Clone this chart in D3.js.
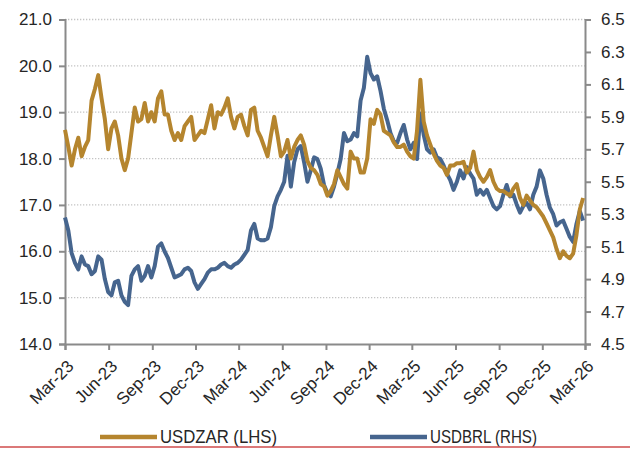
<!DOCTYPE html>
<html>
<head>
<meta charset="utf-8">
<script src="https://cdn.jsdelivr.net/npm/d3@7"></script>
<style>
  body { margin: 0; background: #fff; }
  text { font-family: "Liberation Sans", Arial, sans-serif; fill: #262626; }
</style>
</head>
<body>
<svg id="chart" width="630" height="450"></svg>
<script>
// Weekly closes, first observation 1 March 2023
const firstWeek = "2023-03-01";

const zarValues = [
  18.62, 18.25, 17.85, 18.2, 18.45, 18.05, 18.25, 18.4, 19.25, 19.5,
  19.8, 19.3, 18.85, 18.2, 18.65, 18.8, 18.5, 18.0, 17.75, 18.0,
  18.55, 19.1, 18.8, 18.85, 19.2, 18.8, 19.0, 18.8, 19.3, 19.45,
  18.95, 18.95, 18.6, 18.4, 18.55, 18.4, 18.7, 18.8, 18.9, 18.4,
  18.5, 18.6, 18.55, 18.85, 19.15, 18.65, 19.0, 18.95, 19.1, 19.3,
  18.9, 18.65, 18.9, 18.95, 18.7, 18.5, 19.05, 19.1, 18.6, 18.45,
  18.25, 18.05, 18.5, 18.9, 18.5, 18.05, 18.15, 18.4, 18.0, 18.25,
  18.4, 18.5, 18.3, 17.95, 17.8, 17.75, 17.65, 17.45, 17.4, 17.2,
  17.3, 17.45, 17.75, 17.6, 17.45, 17.35, 18.15, 18.0, 18.0, 17.7,
  17.7, 18.0, 18.85, 18.75, 19.05, 18.95, 18.6, 18.55, 18.5, 18.35,
  18.25, 18.25, 18.3, 18.15, 18.05, 18.0, 18.6, 19.7, 18.8, 18.5,
  18.3, 18.1, 17.95, 17.85, 17.8, 17.65, 17.85, 17.85, 17.9, 17.9,
  17.93, 17.7, 17.8, 18.15, 17.75, 17.6, 17.5, 17.6, 17.75, 17.5,
  17.35, 17.3, 17.3, 17.25, 17.2, 17.35, 17.45, 17.15, 17.0, 17.2,
  17.1, 17.0, 16.95, 16.85, 16.75, 16.6, 16.45, 16.3, 16.05, 15.85,
  16.0, 15.9, 15.85, 15.95, 16.35, 16.9, 17.15
];

const brlValues = [
  5.28, 5.2, 5.06, 5.0, 4.96, 5.04, 4.99, 4.98, 4.93, 4.95,
  5.04, 5.02, 4.9, 4.82, 4.8, 4.88, 4.89, 4.8, 4.76, 4.74,
  4.92, 4.96, 4.98, 4.89, 4.92, 4.98, 4.91, 4.98, 5.1, 5.12,
  5.07, 5.03, 4.97, 4.91, 4.92, 4.93, 4.96, 4.97, 4.95, 4.88,
  4.84, 4.87, 4.9, 4.94, 4.96, 4.96, 4.97, 4.99, 5.0, 4.98,
  4.97, 4.99, 5.0, 5.02, 5.05, 5.08, 5.2, 5.24, 5.15, 5.14,
  5.14, 5.15, 5.22, 5.35, 5.41, 5.45, 5.5, 5.66, 5.47, 5.62,
  5.7, 5.72, 5.62, 5.5, 5.57, 5.65, 5.64, 5.58, 5.48, 5.43,
  5.41, 5.47, 5.55, 5.64, 5.8, 5.75, 5.76, 5.8, 5.78, 6.0,
  6.08, 6.27, 6.17, 6.13, 6.15, 6.06, 5.95, 5.88, 5.8, 5.75,
  5.74, 5.8, 5.85, 5.76, 5.7, 5.74, 5.64, 5.92, 5.79, 5.7,
  5.68, 5.7, 5.65, 5.64, 5.6, 5.55, 5.51, 5.45, 5.5, 5.57,
  5.52, 5.59, 5.55, 5.52, 5.42, 5.45, 5.42, 5.45, 5.4, 5.35,
  5.33, 5.35, 5.42, 5.48, 5.41, 5.42, 5.36, 5.31, 5.35, 5.37,
  5.33, 5.42, 5.47, 5.57, 5.52, 5.42, 5.34, 5.3, 5.23, 5.25,
  5.26, 5.21, 5.16, 5.13, 5.24, 5.32, 5.26
];

const seriesNames = ["USDZAR (LHS)", "USDBRL (RHS)"];
const seriesColors = ["#b5852e", "#46658e"];
const leftTicks = [14, 15, 16, 17, 18, 19, 20, 21];
const rightTicks = [4.5, 4.7, 4.9, 5.1, 5.3, 5.5, 5.7, 5.9, 6.1, 6.3, 6.5];
const xTickLabels = ["Mar-23", "Jun-23", "Sep-23", "Dec-23", "Mar-24", "Jun-24",
  "Sep-24", "Dec-24", "Mar-25", "Jun-25", "Sep-25", "Dec-25", "Mar-26"];

const svg = d3.select("#chart");
const margin = { top: 19.5, right: 45, bottom: 106, left: 65 };
const W = 630, H = 450;
const innerW = W - margin.left - margin.right;
const innerH = H - margin.top - margin.bottom;

const parseLabel = d3.timeParse("%b-%y");
const tickDates = xTickLabels.map(parseLabel);
const start = d3.timeParse("%Y-%m-%d")(firstWeek);
const weekDates = zarValues.map((_, i) => d3.timeDay.offset(start, 7 * i));

const x = d3.scaleTime()
  .domain([tickDates[0], tickDates[tickDates.length - 1]])
  .range([0, innerW]);
const yL = d3.scaleLinear().domain([14, 21]).range([innerH, 0]);
const yR = d3.scaleLinear().domain([4.5, 6.5]).range([innerH, 0]);

const g = svg.append("g").attr("transform", `translate(${margin.left},${margin.top})`);

// dotted horizontal gridlines on the left-axis ticks
g.append("g")
  .selectAll("line")
  .data(leftTicks.filter(d => d > 14))
  .join("line")
  .attr("x1", 0).attr("x2", innerW)
  .attr("y1", d => yL(d)).attr("y2", d => yL(d))
  .attr("stroke", "#c4c4c4")
  .attr("stroke-width", 1.3)
  .attr("stroke-dasharray", "1.3,1.7");

const axisColor = "#8a8a8a";

// left axis
const leftAxis = g.append("g")
  .call(d3.axisLeft(yL).tickValues(leftTicks).tickFormat(d3.format(".1f")).tickSize(6).tickPadding(7));
// right axis
const rightAxis = g.append("g")
  .attr("transform", `translate(${innerW},0)`)
  .call(d3.axisRight(yR).tickValues(rightTicks).tickFormat(d3.format(".1f")).tickSize(6).tickPadding(10));
// bottom axis
const bottomAxis = g.append("g")
  .attr("transform", `translate(0,${innerH})`)
  .call(d3.axisBottom(x).tickValues(tickDates).tickFormat((d, i) => xTickLabels[i]).tickSize(6).tickPadding(4));

[leftAxis, rightAxis, bottomAxis].forEach(a => {
  a.select(".domain").attr("stroke", axisColor).attr("stroke-width", 2);
  a.selectAll(".tick line").attr("stroke", axisColor).attr("stroke-width", 2);
  a.selectAll("text").style("font-size", "17px").attr("fill", "#262626");
});

bottomAxis.selectAll("text")
  .attr("text-anchor", "end")
  .attr("dy", "0.35em")
  .attr("transform", "translate(-2,12) rotate(-45)")
  .attr("dx", "0");

// series lines
const zarLine = d3.line().x((d, i) => x(weekDates[i])).y(d => yL(d));
const brlLine = d3.line().x((d, i) => x(weekDates[i])).y(d => yR(d));

g.append("path")
  .datum(brlValues)
  .attr("fill", "none")
  .attr("stroke", seriesColors[1])
  .attr("stroke-width", 4)
  .attr("stroke-linejoin", "round")
  .attr("d", brlLine);

g.append("path")
  .datum(zarValues)
  .attr("fill", "none")
  .attr("stroke", seriesColors[0])
  .attr("stroke-width", 4)
  .attr("stroke-linejoin", "round")
  .attr("d", zarLine);

// legend
const legendItems = [
  { name: seriesNames[0], color: seriesColors[0], x: 100, w: 117 },
  { name: seriesNames[1], color: seriesColors[1], x: 370, w: 107 }
];
const legend = svg.append("g").attr("transform", "translate(0,437)");
legendItems.forEach(item => {
  legend.append("line")
    .attr("x1", item.x).attr("x2", item.x + 57)
    .attr("y1", 0).attr("y2", 0)
    .attr("stroke", item.color).attr("stroke-width", 4.5);
  legend.append("text")
    .attr("x", item.x + 60).attr("y", 0)
    .attr("dy", "0.36em")
    .attr("textLength", item.w)
    .attr("lengthAdjust", "spacingAndGlyphs")
    .style("font-size", "18px")
    .text(item.name);
});

// red rule under the legend
svg.append("line")
  .attr("x1", 0).attr("x2", W)
  .attr("y1", 447).attr("y2", 447)
  .attr("stroke", "#cf4b4b").attr("stroke-width", 1.5);
</script>
</body>
</html>
